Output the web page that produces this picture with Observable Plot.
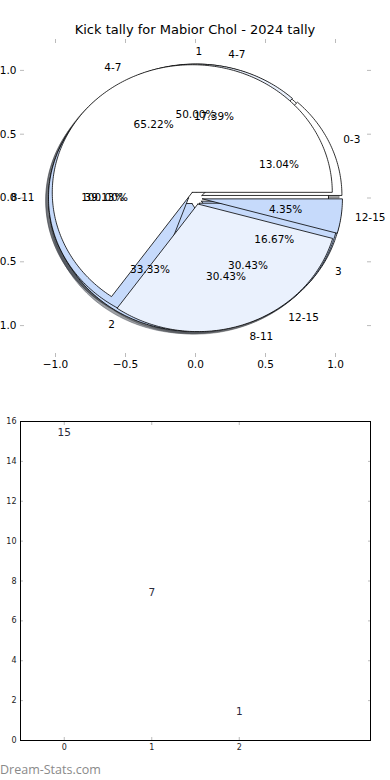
<!DOCTYPE html>
<html><head><meta charset="utf-8">
<script src="https://cdn.jsdelivr.net/npm/d3@7"></script>
<script src="https://cdn.jsdelivr.net/npm/@observablehq/plot@0.6"></script>
<style>
body{margin:0;background:#fff;width:390px;height:780px;overflow:hidden;font-family:"DejaVu Sans",sans-serif;position:relative}
#title{height:38px;box-sizing:border-box;padding-top:22px;text-align:center;font-size:13px;line-height:16px;color:#000;white-space:nowrap}
#wm{position:absolute;left:0;top:761px;font-family:"Open Sans",sans-serif;font-size:12.5px;color:#8a8a8a;line-height:18px}
svg{display:block}
</style></head><body>
<div id="title">Kick tally for Mabior Chol - 2024 tally</div>
<div id="pie"></div>
<div id="bar"></div>
<div id="wm">Dream-Stats.com</div>
<script>
// ---- data ----
const pieDLabels = [""];
const pieDValues = [23];
const pieCLabels = ["1", "2", "3"];
const pieCValues = [3, 2, 1];
const pieALabels = ["0-3", "4-7", "8-11", "12-15"];
const pieAValues = [3, 4, 9, 7];
const pieBLabels = ["4-7", "8-11", "12-15"];
const pieBValues = [15, 7, 1];
const pieTicks = [-1, -0.5, 0, 0.5, 1];

const barCats = [0, 1, 2];
const barValues = [15, 7, 1];
const barXTicks = [0, 1, 2];
const barYTicks = [0, 2, 4, 6, 8, 10, 12, 14, 16];

// ---- styles ----
const WHITE = "#ffffff", VL = "#eaf1fd", LB = "#c6dafb";
const pies = [
  {labels: pieDLabels, values: pieDValues, colors: [WHITE]},
  {labels: pieCLabels, values: pieCValues, colors: [WHITE, LB, LB]},
  {labels: pieALabels, values: pieAValues, colors: [WHITE, VL, LB, LB]},
  {labels: pieBLabels, values: pieBValues, colors: [WHITE, VL, LB]}
];
const explode = 0.05;

function wedges(p) {
  const total = d3.sum(p.values);
  let acc = 0;
  return p.values.map((v, i) => {
    const t1 = acc / total * 360; acc += v;
    const t2 = acc / total * 360;
    const tm = (t1 + t2) / 2 * Math.PI / 180;
    return {label: p.labels[i], pct: (v / total * 100).toFixed(2) + "%", t1, t2, tm,
      cx: explode * Math.cos(tm), cy: explode * Math.sin(tm), color: p.colors[i % p.colors.length]};
  });
}
function poly(w, dx = 0, dy = 0) {
  const full = w.t2 - w.t1 >= 359.999;
  const pts = full ? [] : [[w.cx + dx, w.cy + dy]];
  const n = Math.max(2, Math.ceil(w.t2 - w.t1));
  for (let k = 0; k <= n; k++) {
    const a = (w.t1 + (w.t2 - w.t1) * k / n) * Math.PI / 180;
    pts.push([w.cx + dx + Math.cos(a), w.cy + dy + Math.sin(a)]);
  }
  if (!full) pts.push([w.cx + dx, w.cy + dy]);
  return pts;
}

const allW = pies.map(wedges);
const shadowMarks = [], wedgeMarks = [];
allW.forEach(ws => ws.forEach(w => {
  const c = d3.rgb(w.color);
  const sc = d3.rgb(c.r * 0.3, c.g * 0.3, c.b * 0.3).toString();
  shadowMarks.push(Plot.line(poly(w, -0.02, -0.02), {x: d => d[0], y: d => d[1], fill: sc, stroke: sc, fillOpacity: 0.5, strokeOpacity: 0.5, strokeWidth: 0.8}));
  wedgeMarks.push(Plot.line(poly(w), {x: d => d[0], y: d => d[1], fill: w.color, stroke: "black", strokeWidth: 0.8}));
}));
const labelRows = [], pctRows = [];
allW.forEach(ws => ws.forEach(w => {
  const xt = w.cx + 1.1 * Math.cos(w.tm), yt = w.cy + 1.1 * Math.sin(w.tm);
  if (w.label !== "") labelRows.push({x: xt, y: yt, text: w.label});
  pctRows.push({x: w.cx + 0.6 * Math.cos(w.tm), y: w.cy + 0.6 * Math.sin(w.tm), text: w.pct});
}));

const fmt = d3.format(".1f");
const pie = Plot.plot({
  width: 390, height: 342,
  marginTop: 0, marginBottom: 23, marginLeft: 20, marginRight: 20,
  x: {domain: [-1.25, 1.25]},
  y: {domain: [-1.25, 1.25]},
  style: {fontFamily: "DejaVu Sans", fontSize: "10.5px", overflow: "visible", background: "white"},
  marks: [
    ...shadowMarks,
    ...wedgeMarks,
    Plot.text(pctRows, {x: "x", y: "y", text: "text", fill: "black", fontSize: 10.5}),
    Plot.text(labelRows.filter(d => d.x > 0), {x: "x", y: "y", text: "text", textAnchor: "start", fill: "black", fontSize: 10.5}),
    Plot.text(labelRows.filter(d => d.x <= 0), {x: "x", y: "y", text: "text", textAnchor: "end", fill: "black", fontSize: 10.5}),
    Plot.axisX(pieTicks, {anchor: "bottom", tickSize: -4, tickFormat: () => "", stroke: "#bbb", label: null}),
    Plot.axisX(pieTicks, {anchor: "top", tickSize: -4, tickFormat: () => "", stroke: "#bbb", label: null}),
    Plot.axisY(pieTicks, {anchor: "left", tickSize: -4, tickFormat: () => "", stroke: "#bbb", label: null}),
    Plot.axisY(pieTicks, {anchor: "right", tickSize: -4, tickFormat: () => "", stroke: "#bbb", label: null}),
    Plot.axisX(pieTicks, {anchor: "bottom", tickSize: 0, tickPadding: 3, tickFormat: fmt, fill: "black", label: null, fontSize: 10.5}),
    Plot.axisY(pieTicks, {anchor: "left", tickSize: 0, tickPadding: 4, tickFormat: fmt, fill: "black", label: null, fontSize: 10.5})
  ]
});
document.getElementById("pie").appendChild(pie);

const bar = Plot.plot({
  width: 390, height: 380,
  marginTop: 41, marginBottom: 20, marginLeft: 20, marginRight: 20,
  x: {domain: [-0.5, 3.5]},
  y: {domain: [0, 16]},
  style: {fontFamily: "DejaVu Sans", fontSize: "8px", overflow: "visible", background: "white"},
  marks: [
    Plot.axisX(barXTicks, {anchor: "bottom", tickSize: -3, tickFormat: () => "", stroke: "#bbb", label: null}),
    Plot.axisX(barXTicks, {anchor: "top", tickSize: -3, tickFormat: () => "", stroke: "#bbb", label: null}),
    Plot.axisY(barYTicks, {anchor: "left", tickSize: -3, tickFormat: () => "", stroke: "#bbb", label: null}),
    Plot.axisY(barYTicks, {anchor: "right", tickSize: -3, tickFormat: () => "", stroke: "#bbb", label: null}),
    Plot.axisX(barXTicks, {anchor: "bottom", tickSize: 0, tickPadding: 4, fill: "#222", label: null, fontSize: 8}),
    Plot.axisY(barYTicks, {anchor: "left", tickSize: 0, tickPadding: 4, fill: "#222", label: null, fontSize: 8}),
    Plot.frame({stroke: "black", strokeWidth: 1}),
    Plot.text(barCats, {x: d => d, y: (d, i) => barValues[i], text: (d, i) => String(barValues[i]), dy: -8.5, fill: "#2b2b3b", fontSize: 10.5})
  ]
});
document.getElementById("bar").appendChild(bar);
</script>
</body></html>
